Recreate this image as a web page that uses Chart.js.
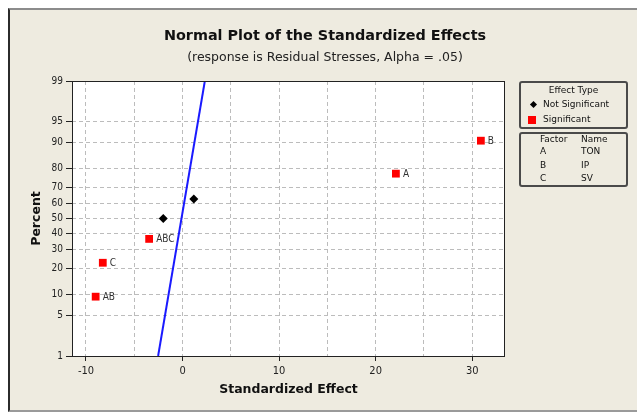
<!DOCTYPE html>
<html>
<head>
<meta charset="utf-8">
<script src="https://cdn.jsdelivr.net/npm/chart.js@4/dist/chart.umd.min.js"></script>
<style>
  html, body { margin: 0; padding: 0; background: #fff; }
  #wrap { position: relative; width: 637px; height: 412px; overflow: hidden;
          font-family: 'DejaVu Sans', sans-serif; color: #111; }
  #frame { position: absolute; left: 8px; top: 8px; width: 627px; height: 400px; background: #eeebe0;
           border-top: 2px solid #8c8c8c; border-left: 2px solid #2b2b2b;
           border-bottom: 2px solid #9a9a9a; border-right: 1px solid #d6d3c8; }
  canvas { position: absolute; left: 0; top: 0; }
  .ttl { position: absolute; left: 0; width: 650px; text-align: center; white-space: nowrap; }
  #title { top: 27px; font-size: 14.4px; font-weight: bold; line-height: 16px; }
  #subtitle { top: 50px; font-size: 12.5px; line-height: 14px; color: #222; }
  .box { position: absolute; left: 519px; width: 105px; border: 2px solid #4a4a4a; border-radius: 3px;
         font-size: 9px; line-height: 13px; color: #111; }
  #box1 { top: 81px; height: 44px; }
  #box2 { top: 132px; height: 51px; }
  .row { position: absolute; white-space: nowrap; }
  .dia { position: absolute; width: 5px; height: 5px; background: #000; transform: rotate(45deg); }
  .sq { position: absolute; width: 8px; height: 8px; background: #f00; }
</style>
</head>
<body>
<div id="wrap">
  <div id="frame"></div>
  <canvas id="chart" width="637" height="412"></canvas>
  <div id="title" class="ttl">Normal Plot of the Standardized Effects</div>
  <div id="subtitle" class="ttl">(response is Residual Stresses, Alpha = .05)</div>
  <div id="box1" class="box"></div>
  <div id="box2" class="box"></div>
</div>
<script>
// effects (x = standardized effect, pct = normal percent)
const EFFECT_NAMES = ['AB', 'C', 'ABC', '', '', 'A', 'B'];
const EFFECT_X = [-9.0, -8.26, -3.46, -2.0, 1.17, 22.1, 30.9];
const EFFECT_PCT = [9.3, 22.7, 36.5, 50, 63, 77.6, 90.6];
const SIGNIFICANT = [true, true, true, false, false, true, true];
// fitted reference line end points
const FIT_X = [-2.53, 2.31];
const FIT_PCT = [1, 99];
const X_TICKS = [-10, -5, 0, 5, 10, 15, 20, 25, 30];
const PCT_TICKS = [1, 5, 10, 20, 30, 40, 50, 60, 70, 80, 90, 95, 99];
const FACTORS = ['A', 'B', 'C'];
const FACTOR_NAMES = ['TON', 'IP', 'SV'];

// inverse normal cdf (Acklam)
function probit(p) {
  const a = [-39.69683028665376, 220.9460984245205, -275.9285104469687, 138.3577518672690, -30.66479806614716, 2.506628277459239];
  const b = [-54.47609879822406, 161.5858368580409, -155.6989798598866, 66.80131188771972, -13.28068155288572];
  const c = [-0.007784894002430293, -0.3223964580411365, -2.400758277161838, -2.549732539343734, 4.374664141464968, 2.938163982698783];
  const d = [0.007784695709041462, 0.3224671290700398, 2.445134137142996, 3.754408661907416];
  const lo = 0.02425;
  const tail = (q) => (((((c[0]*q+c[1])*q+c[2])*q+c[3])*q+c[4])*q+c[5]) / ((((d[0]*q+d[1])*q+d[2])*q+d[3])*q+1);
  if (p < lo) return tail(Math.sqrt(-2 * Math.log(p)));
  if (p > 1 - lo) return -tail(Math.sqrt(-2 * Math.log(1 - p)));
  const q = p - 0.5, r = q * q;
  return (((((a[0]*r+a[1])*r+a[2])*r+a[3])*r+a[4])*r+a[5])*q / (((((b[0]*r+b[1])*r+b[2])*r+b[3])*r+b[4])*r+1);
}
const z = (pct) => probit(pct / 100);

const sig = [], sigNames = [], notSig = [];
EFFECT_X.forEach((x, i) => {
  const pt = { x, y: z(EFFECT_PCT[i]) };
  if (SIGNIFICANT[i]) { sig.push(pt); sigNames.push(EFFECT_NAMES[i]); } else notSig.push(pt);
});

const plotFrame = {
  id: 'plotFrame',
  beforeDraw(chart) {
    const { ctx, chartArea: a } = chart;
    ctx.save(); ctx.fillStyle = '#fff';
    ctx.fillRect(a.left, a.top, a.right - a.left, a.bottom - a.top); ctx.restore();
  },
  afterDraw(chart) {
    const { ctx, chartArea: a } = chart;
    ctx.save(); ctx.strokeStyle = '#222'; ctx.lineWidth = 1;
    ctx.strokeRect(a.left + 0.5, a.top + 0.5, a.right - a.left - 1, a.bottom - a.top); ctx.restore();
  },
  afterDatasetsDraw(chart) {
    const { ctx } = chart;
    const meta = chart.getDatasetMeta(0);
    ctx.save(); ctx.fillStyle = '#333'; ctx.font = '10px "DejaVu Sans Condensed", "DejaVu Sans"';
    ctx.textBaseline = 'middle';
    meta.data.forEach((el, i) => ctx.fillText(sigNames[i], el.x + 7, el.y + 1));
    ctx.restore();
  },
};

const tickFont = { family: '"DejaVu Sans Condensed", "DejaVu Sans"', size: 10 };
const titleFont = { family: '"DejaVu Sans"', size: 12.5, weight: 'bold' };

new Chart(document.getElementById('chart'), {
  type: 'scatter',
  data: { datasets: [
    { label: 'Significant', data: sig, pointStyle: 'rect', pointRadius: 5.5,
      backgroundColor: '#ff0000', borderColor: '#ff0000', borderWidth: 0 },
    { label: 'Not Significant', data: notSig, pointStyle: 'rectRot', pointRadius: 4.5,
      backgroundColor: '#000', borderColor: '#000', borderWidth: 0 },
    { label: 'fit', data: FIT_X.map((x, i) => ({ x, y: z(FIT_PCT[i]) })), showLine: true,
      pointRadius: 0, borderColor: '#1a1aff', borderWidth: 2, fill: false },
  ] },
  options: {
    responsive: false, animation: false,
    layout: { padding: { left: 0, top: 81, right: 132, bottom: 0 } },
    plugins: { legend: { display: false }, tooltip: { enabled: false } },
    scales: {
      x: {
        type: 'linear', min: -11.45, max: 33.4,
        afterFit: (s) => { s.height = 56; },
        afterBuildTicks: (s) => { s.ticks = X_TICKS.map(v => ({ value: v })); },
        ticks: { padding: 4, color: '#222', font: { ...tickFont, size: 11 },
                 callback: (v, i) => (X_TICKS[i] % 10 === 0 ? X_TICKS[i] : '') },
        grid: { color: '#bcbcbc', tickLength: 5, tickBorderDash: [],
                tickColor: (c) => (c.tick && c.tick.value % 10 === 0 ? '#222' : 'rgba(0,0,0,0)') },
        border: { display: false, dash: [4, 3] },
        title: { display: true, text: 'Standardized Effect', color: '#111', font: titleFont,
                 padding: { top: 0, bottom: 15 } },
      },
      y: {
        type: 'linear', min: z(1), max: z(99),
        afterFit: (s) => { s.width = 72; },
        afterBuildTicks: (s) => { s.ticks = PCT_TICKS.map(p => ({ value: z(p) })); },
        ticks: { padding: 3, color: '#222', font: tickFont, callback: (v, i) => PCT_TICKS[i] },
        grid: { color: '#bcbcbc', tickLength: 6, tickBorderDash: [], tickColor: '#222' },
        border: { display: false, dash: [4, 3] },
        title: { display: true, text: 'Percent', color: '#111', font: titleFont,
                 padding: { top: 29, bottom: 0 } },
      },
    },
  },
  plugins: [plotFrame],
});

document.getElementById('box1').innerHTML =
  `<div class="row" style="left:0;width:105px;text-align:center;top:1px">Effect Type</div>
   <div class="dia" style="left:10px;top:19px"></div>
   <div class="row" style="left:22px;top:15px">Not Significant</div>
   <div class="sq" style="left:7px;top:33px"></div>
   <div class="row" style="left:22px;top:30px">Significant</div>`;
document.getElementById('box2').innerHTML =
  `<div class="row" style="left:19px;top:-1px">Factor</div>
   <div class="row" style="left:60px;top:-1px">Name</div>` +
  FACTORS.map((f, i) =>
    `<div class="row" style="left:19px;top:${11 + i * 13.5}px">${f}</div>
     <div class="row" style="left:60px;top:${11 + i * 13.5}px">${FACTOR_NAMES[i]}</div>`).join('');
</script>
</body>
</html>
